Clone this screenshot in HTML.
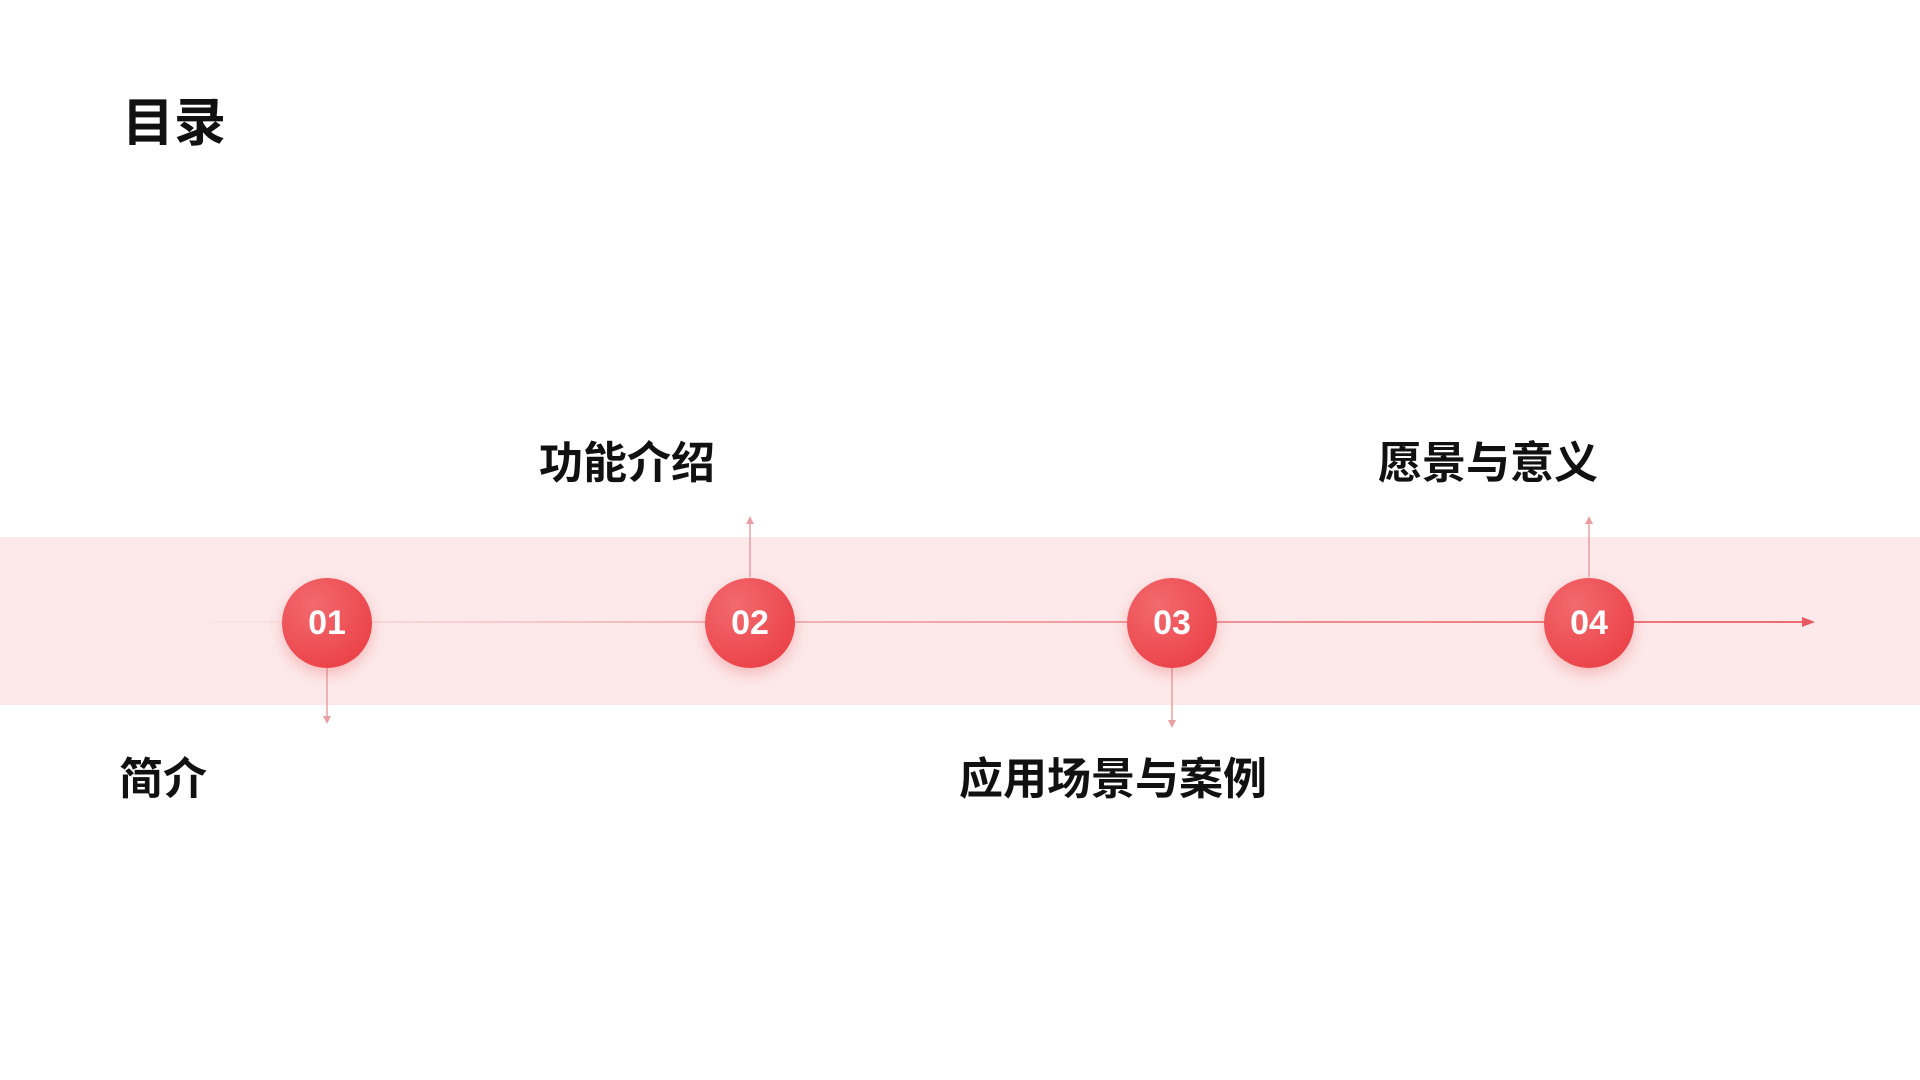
<!DOCTYPE html>
<html><head><meta charset="utf-8"><style>
body{margin:0;width:1920px;height:1080px;background:#fff;position:relative;overflow:hidden;font-family:"Liberation Sans","Noto Sans CJK SC",sans-serif}
.t{position:absolute;font-weight:bold;color:#111;white-space:nowrap;line-height:1}
.band{position:absolute;left:0;top:537px;width:1920px;height:168px;background:#fde9ea}
.c{position:absolute;width:90px;height:90px;border-radius:50%;background:radial-gradient(circle at 35% 30%,#f26a6e,#e9383f);box-shadow:0 6px 14px rgba(230,80,80,.3);color:#fff;font:bold 34px "Liberation Sans",sans-serif;display:flex;align-items:center;justify-content:center}
</style></head><body>
<div class="t" style="left:122px;top:98px;font-size:52px">目录</div>
<div class="band"></div>
<svg width="1920" height="1080" style="position:absolute;left:0;top:0">
<defs><linearGradient id="g" gradientUnits="userSpaceOnUse" x1="150" y1="0" x2="1805" y2="0"><stop offset="0" stop-color="#f3c4c6" stop-opacity="0"/><stop offset="0.3" stop-color="#f0b4b6"/><stop offset="1" stop-color="#e85a5f"/></linearGradient></defs>
<line x1="150" y1="622" x2="1805" y2="622" stroke="url(#g)" stroke-width="1.8"/>
<polygon points="1815,622 1802,617 1802,627" fill="#e85a5f"/>
<g stroke="#eaa0a3" stroke-width="1.5" fill="#eaa0a3">
<line x1="327" y1="667" x2="327" y2="718"/><polygon points="327,724 323,716 331,716" stroke="none"/>
<line x1="750" y1="577" x2="750" y2="522"/><polygon points="750,516 746,524 754,524" stroke="none"/>
<line x1="1172" y1="667" x2="1172" y2="722"/><polygon points="1172,728 1168,720 1176,720" stroke="none"/>
<line x1="1589" y1="577" x2="1589" y2="522"/><polygon points="1589,516 1585,524 1593,524" stroke="none"/>
</g></svg>
<div class="c" style="left:282px;top:578px">01</div>
<div class="c" style="left:705px;top:578px">02</div>
<div class="c" style="left:1127px;top:578px">03</div>
<div class="c" style="left:1544px;top:578px">04</div>
<div class="t" style="left:539px;top:442px;font-size:44px">功能介绍</div>
<div class="t" style="left:1378px;top:442px;font-size:44px">愿景与意义</div>
<div class="t" style="left:119px;top:758px;font-size:44px">简介</div>
<div class="t" style="left:959px;top:758px;font-size:44px">应用场景与案例</div>
</body></html>
